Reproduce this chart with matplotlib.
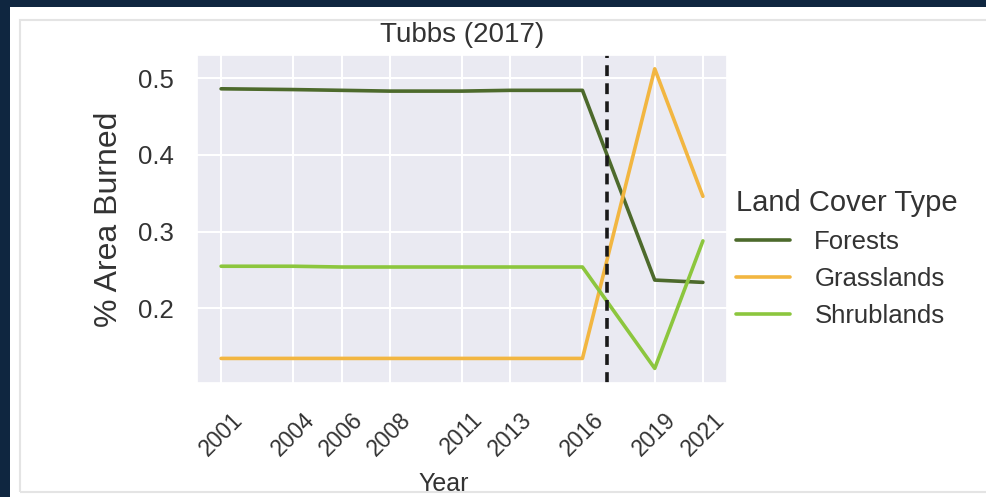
import numpy as np
import matplotlib
matplotlib.use("Agg")
import matplotlib.pyplot as plt
import seaborn as sns
from matplotlib.patches import Rectangle

# data
years = [2001, 2004, 2006, 2008, 2011, 2013, 2016, 2019, 2021]
forests = [0.486, 0.485, 0.484, 0.483, 0.483, 0.484, 0.484, 0.237, 0.234]
grasslands = [0.135, 0.135, 0.135, 0.135, 0.135, 0.135, 0.135, 0.512, 0.346]
shrublands = [0.255, 0.255, 0.254, 0.254, 0.254, 0.254, 0.254, 0.122, 0.288]
series_names = ['Forests', 'Grasslands', 'Shrublands']
fire_year = 2017

sns.set_theme(style='darkgrid')
plt.rcParams['font.family'] = ['Liberation Sans', 'DejaVu Sans']

fig = plt.figure(figsize=(9.86, 4.97), dpi=100)
fig.patch.set_facecolor('#0f2640')
# white slide panel and its thin frame
fig.patches.append(Rectangle((10/986, 0), 976/986, 1 - 7/497, transform=fig.transFigure,
                             facecolor='white', edgecolor='none', zorder=-10))
fig.patches.append(Rectangle((20/986, 5/497), 970/986, 1 - 25/497, transform=fig.transFigure,
                             facecolor='none', edgecolor='#e4e4e4', lw=1.5, zorder=-9))

ax = fig.add_axes([197/986, 1 - 383/497, 530/986, 328/497])
ax.set_zorder(1)
cols = ['#4d6a2c', '#f2b641', '#8cc63e']
for ys, name, c in zip([forests, grasslands, shrublands], series_names, cols):
    ax.plot(years, ys, color=c, lw=2.6, label=name)
ax.axvline(fire_year, color='#1a1a1a', ls='--', lw=2.6, dashes=(3, 2))

ax.set_xlim(2000, 2022)
ax.set_ylim(0.103, 0.53)
ax.set_xticks(years)
ax.set_xticklabels([str(y) for y in years], rotation=45, fontsize=16.5, color='#333333')
ax.tick_params(axis='x', pad=12)
ax.set_yticks([0.2, 0.3, 0.4, 0.5])
ax.tick_params(axis='y', labelsize=18.5, labelcolor='#333333', pad=11)
ax.set_xlabel('Year', fontsize=18, color='#333333')
ax.xaxis.set_label_coords(0.466, -0.272)
ax.set_ylabel('% Area Burned', fontsize=23, color='#333333', labelpad=10)
ax.set_title('Tubbs (2017)', fontsize=20, color='#333333', pad=9)
ax.grid(color='white', lw=1.5)

leg = fig.legend(loc='upper left', bbox_to_anchor=(736/986, 1 - 189/497), frameon=False,
                 title='Land Cover Type', fontsize=18.5, title_fontsize=21,
                 handlelength=2.1, handletextpad=0.95, labelspacing=0.5,
                 borderpad=0, borderaxespad=0, alignment='left')
for t in leg.get_texts():
    t.set_color('#333333')
leg.get_title().set_color('#333333')

fig.savefig('out.png', dpi=100, facecolor=fig.get_facecolor())
